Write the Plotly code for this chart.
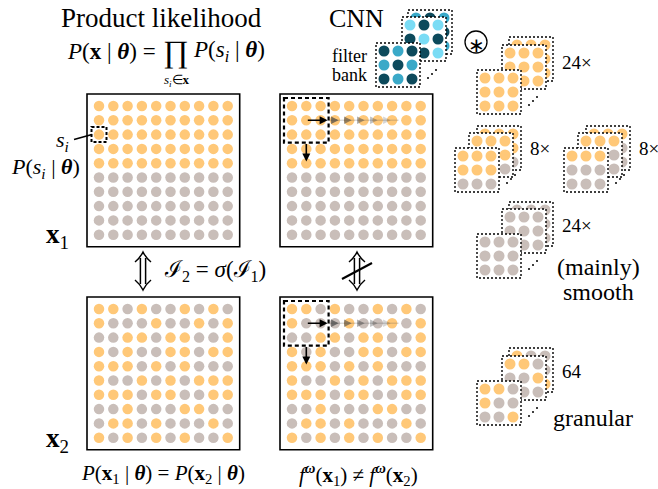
import plotly.graph_objects as go

W, H = 658, 489
SERIF = "Liberation Serif"

COLORS = {
    "O": "#FFC878",   # orange pixel
    "G": "#C9BEB9",   # grey pixel
    "D": "#0D4A5C",   # dark teal filter weight
    "M": "#3AA9C8",   # mid blue filter weight
    "L": "#7ADCF5",   # light cyan filter weight
}

# 10x10 images, O = orange, G = grey
X1_ROWS = ["OOOOOOOOOO"] * 5 + ["GGGGGGGGGG"] * 5
X2_ROWS = [
    "OOGOGGOGOG",
    "OGGGOGGOGO",
    "GGOOGOOGGO",
    "OGOGGOOGOO",
    "OOOGOGOGGG",
    "OGGOGOGOOO",
    "OOOGOOGGOO",
    "GGOGGGOOGG",
    "GOOGOGGGOG",
    "OGOGOGOGGO",
]

# 3x3 patches, each stack listed back -> middle -> front
FILTER_BANK = [["MDM", "DMD", "MDM"], ["LDL", "DLD", "LDL"], ["DMD", "MDM", "DMD"]]
STACK_ORANGE = [["OOO", "OOO", "OOO"]] * 3
STACK_EDGE_LOW = [["OOO", "OOO", "GGG"]] * 3
STACK_EDGE_HIGH = [["OOO", "GGG", "GGG"]] * 3
STACK_GREY = [["GGG", "GGG", "GGG"]] * 3
STACK_GRANULAR = [["OGG", "GGG", "GGO"], ["OOG", "GGO", "GGG"], ["OOG", "OGG", "GGO"]]
STACK_LABELS = ["24×", "8×", "8×", "24×", "64"]

PITCH = 14.3
GRID_PAD = 12
GRID_SIZE = 2 * GRID_PAD + 9 * PITCH
PATCH_PAD = 8
PATCH_SIZE = 44

fig = go.Figure()


def add_dots(rows, x0, y0, pad, pitch, size):
    xs, ys, cs = [], [], []
    for r, row in enumerate(rows):
        for c, ch in enumerate(row):
            xs.append(x0 + pad + c * pitch)
            ys.append(y0 + pad + r * pitch)
            cs.append(COLORS[ch])
    fig.add_trace(go.Scatter(x=xs, y=ys, mode="markers", hoverinfo="skip",
                             marker=dict(size=size, color=cs, line=dict(width=0))))


def add_patch(rows, x0, y0):
    x1, y1 = x0 + PATCH_SIZE, y0 + PATCH_SIZE
    fig.add_trace(go.Scatter(x=[x0, x1, x1, x0, x0], y=[y0, y0, y1, y1, y0],
                             mode="lines", fill="toself", fillcolor="white",
                             hoverinfo="skip",
                             line=dict(color="black", width=1.4, dash="2px,2px")))
    add_dots(rows, x0, y0, PATCH_PAD, 14, 11)


def add_stack(stack, fx, fy, mid_off, back_off):
    back, mid, front = stack
    add_patch(back, fx + back_off[0], fy - back_off[1])
    add_patch(mid, fx + mid_off[0], fy - mid_off[1])
    add_patch(front, fx, fy)
    # small diagonal ellipsis
    ex = fx + PATCH_SIZE + 8
    ey = fy + PATCH_SIZE - 9
    fig.add_trace(go.Scatter(x=[ex, ex + 4, ex + 8], y=[ey, ey - 4, ey - 8], mode="markers",
                             hoverinfo="skip", marker=dict(size=2, color="black")))


def add_grid(rows, x0, y0):
    add_dots(rows, x0, y0, GRID_PAD, PITCH, 10.5)
    fig.add_shape(type="rect", x0=x0, y0=y0, x1=x0 + GRID_SIZE, y1=y0 + GRID_SIZE,
                  line=dict(color="black", width=1.6))


def add_window(x0, y0):
    # dashed 3x3 receptive field plus its sliding arrows
    wx0, wy0 = x0 + GRID_PAD - 8, y0 + GRID_PAD - 8
    wx1, wy1 = x0 + GRID_PAD + 2 * PITCH + 8, y0 + GRID_PAD + 2 * PITCH + 8
    fig.add_shape(type="rect", x0=wx0, y0=wy0, x1=wx1, y1=wy1,
                  line=dict(color="black", width=2.2, dash="4px,3px"))
    cx = x0 + GRID_PAD + PITCH
    cy = y0 + GRID_PAD + PITCH
    fig.add_shape(type="line", x0=wx1, y0=cy, x1=wx1 + 70, y1=cy,
                  line=dict(color="rgba(80,80,80,0.2)", width=1.5))
    for k in range(5):
        hx = wx1 + 10 + k * 13
        fig.add_annotation(x=hx, y=cy, ax=hx - 9, ay=cy, axref="x", ayref="y", xref="x", yref="y",
                           text="", showarrow=True, arrowhead=2, arrowsize=1, arrowwidth=1.5,
                           arrowcolor="rgba(70,70,70,%.2f)" % (0.7 - 0.12 * k))
    fig.add_annotation(x=wx1 - 1, y=cy, ax=cx, ay=cy, axref="x", ayref="y", xref="x", yref="y",
                       text="", showarrow=True, arrowhead=2, arrowsize=1, arrowwidth=1.6,
                       arrowcolor="black")
    fig.add_annotation(x=cx, y=wy1 + 19, ax=cx, ay=wy1, axref="x", ayref="y", xref="x", yref="y",
                       text="", showarrow=True, arrowhead=2, arrowsize=1, arrowwidth=1.6,
                       arrowcolor="black")


def add_updown(cx, cy, crossed=False):
    # thin double-stroke vertical arrow, like LaTeX \Updownarrow
    ln = dict(color="black", width=1.5)
    for s in (-1, 1):
        tip = cy + s * 19
        fig.add_shape(type="path", line=ln,
                      path="M %g,%g Q %g,%g %g,%g Q %g,%g %g,%g" % (
                          cx - 8, tip - s * 10, cx - 3, tip - s * 6, cx, tip,
                          cx + 3, tip - s * 6, cx + 8, tip - s * 10))
    for dx in (-2.6, 2.6):
        fig.add_shape(type="line", x0=cx + dx, y0=cy - 13, x1=cx + dx, y1=cy + 13, line=ln)
    if crossed:
        fig.add_shape(type="line", x0=cx - 15, y0=cy + 8, x1=cx + 15, y1=cy - 8,
                      line=dict(color="black", width=2.2))


LX, RX = 87, 280
TY, BY = 94, 297

add_grid(X1_ROWS, LX, TY)
add_grid(X1_ROWS, RX, TY)
add_grid(X2_ROWS, LX, BY)
add_grid(X2_ROWS, RX, BY)
add_window(RX, TY)
add_window(RX, BY)

# s_i marker on the first image
sx, sy = LX + GRID_PAD, TY + GRID_PAD + 2 * PITCH
fig.add_shape(type="rect", x0=sx - 7.5, y0=sy - 7.5, x1=sx + 7.5, y1=sy + 7.5,
              line=dict(color="black", width=2, dash="3px,2px"))
fig.add_shape(type="line", x0=sx - 25, y0=sy + 5, x1=sx - 7, y1=sy, line=dict(color="black", width=1.6))

add_stack(FILTER_BANK, 376, 43, (26, 26), (32, 33))
add_stack(STACK_ORANGE, 477, 70, (25, 25), (32, 33))
add_stack(STACK_EDGE_LOW, 455, 148, (14, 15), (22, 22))
add_stack(STACK_EDGE_HIGH, 564, 148, (14, 15), (22, 22))
add_stack(STACK_GREY, 477, 234, (25, 25), (32, 32))
add_stack(STACK_GRANULAR, 477, 381, (25, 25), (32, 33))

# convolution symbol
fig.add_shape(type="circle", x0=465, y0=31, x1=487, y1=53, line=dict(color="black", width=1.3))

add_updown(143, 271)
add_updown(357, 271, crossed=True)


def label(x, y, text, size, anchor="center"):
    fig.add_annotation(x=x, y=y, xref="x", yref="y", text=text, showarrow=False,
                       xanchor=anchor, yanchor="middle",
                       font=dict(family=SERIF, size=size, color="black"))


TH = "<b><i>θ</i></b>"
label(476, 45, "∗", 20)
label(161, 18, "Product likelihood", 27)
label(158, 51, "<i>P</i>(<b>x</b> | %s) =" % TH, 23, "right")
label(176, 51, "∏", 31)
label(191, 51, "<i>P</i>(<i>s<sub>i</sub></i> | %s)" % TH, 23, "left")
label(177, 80, "<i>s<sub>i</sub></i>∈<b>x</b>", 13)
label(356, 18, "CNN", 26)
label(349, 56, "filter", 18)
label(349, 75, "bank", 18)
for (tx, ty), txt in zip([(560, 62), (528, 148), (637, 148), (560, 225), (560, 371)], STACK_LABELS):
    label(tx, ty, txt, 19, "left")
label(598, 267, "(mainly)", 24)
label(598, 292, "smooth", 24)
label(593, 418, "granular", 24)

label(62, 141, "<i>s<sub>i</sub></i>", 22)
label(45, 168, "<i>P</i>(<i>s<sub>i</sub></i> | %s)" % TH, 22)
label(57, 236, "<b>x</b><sub>1</sub>", 27)
label(57, 440, "<b>x</b><sub>2</sub>", 27)

label(162, 271, "ℐ<sub>2</sub> = <i>σ</i>(ℐ<sub>1</sub>)", 23, "left")

label(163, 474, "<i>P</i>(<b>x</b><sub>1</sub> | %s) = <i>P</i>(<b>x</b><sub>2</sub> | %s)" % (TH, TH), 21)
FW = "<i>f</i><sup><b><i>ω</i></b></sup>"
label(358, 474, "%s(<b>x</b><sub>1</sub>) ≠ %s(<b>x</b><sub>2</sub>)" % (FW, FW), 21)

fig.update_layout(
    width=W, height=H, autosize=False,
    margin=dict(l=0, r=0, t=0, b=0),
    paper_bgcolor="white", plot_bgcolor="white",
    showlegend=False,
    xaxis=dict(range=[0, W], visible=False, fixedrange=True),
    yaxis=dict(range=[H, 0], visible=False, fixedrange=True),
)

fig.write_html("out.html", config={"displayModeBar": False},
               post_script="document.body.style.margin='0px';document.body.style.overflow='hidden';")
